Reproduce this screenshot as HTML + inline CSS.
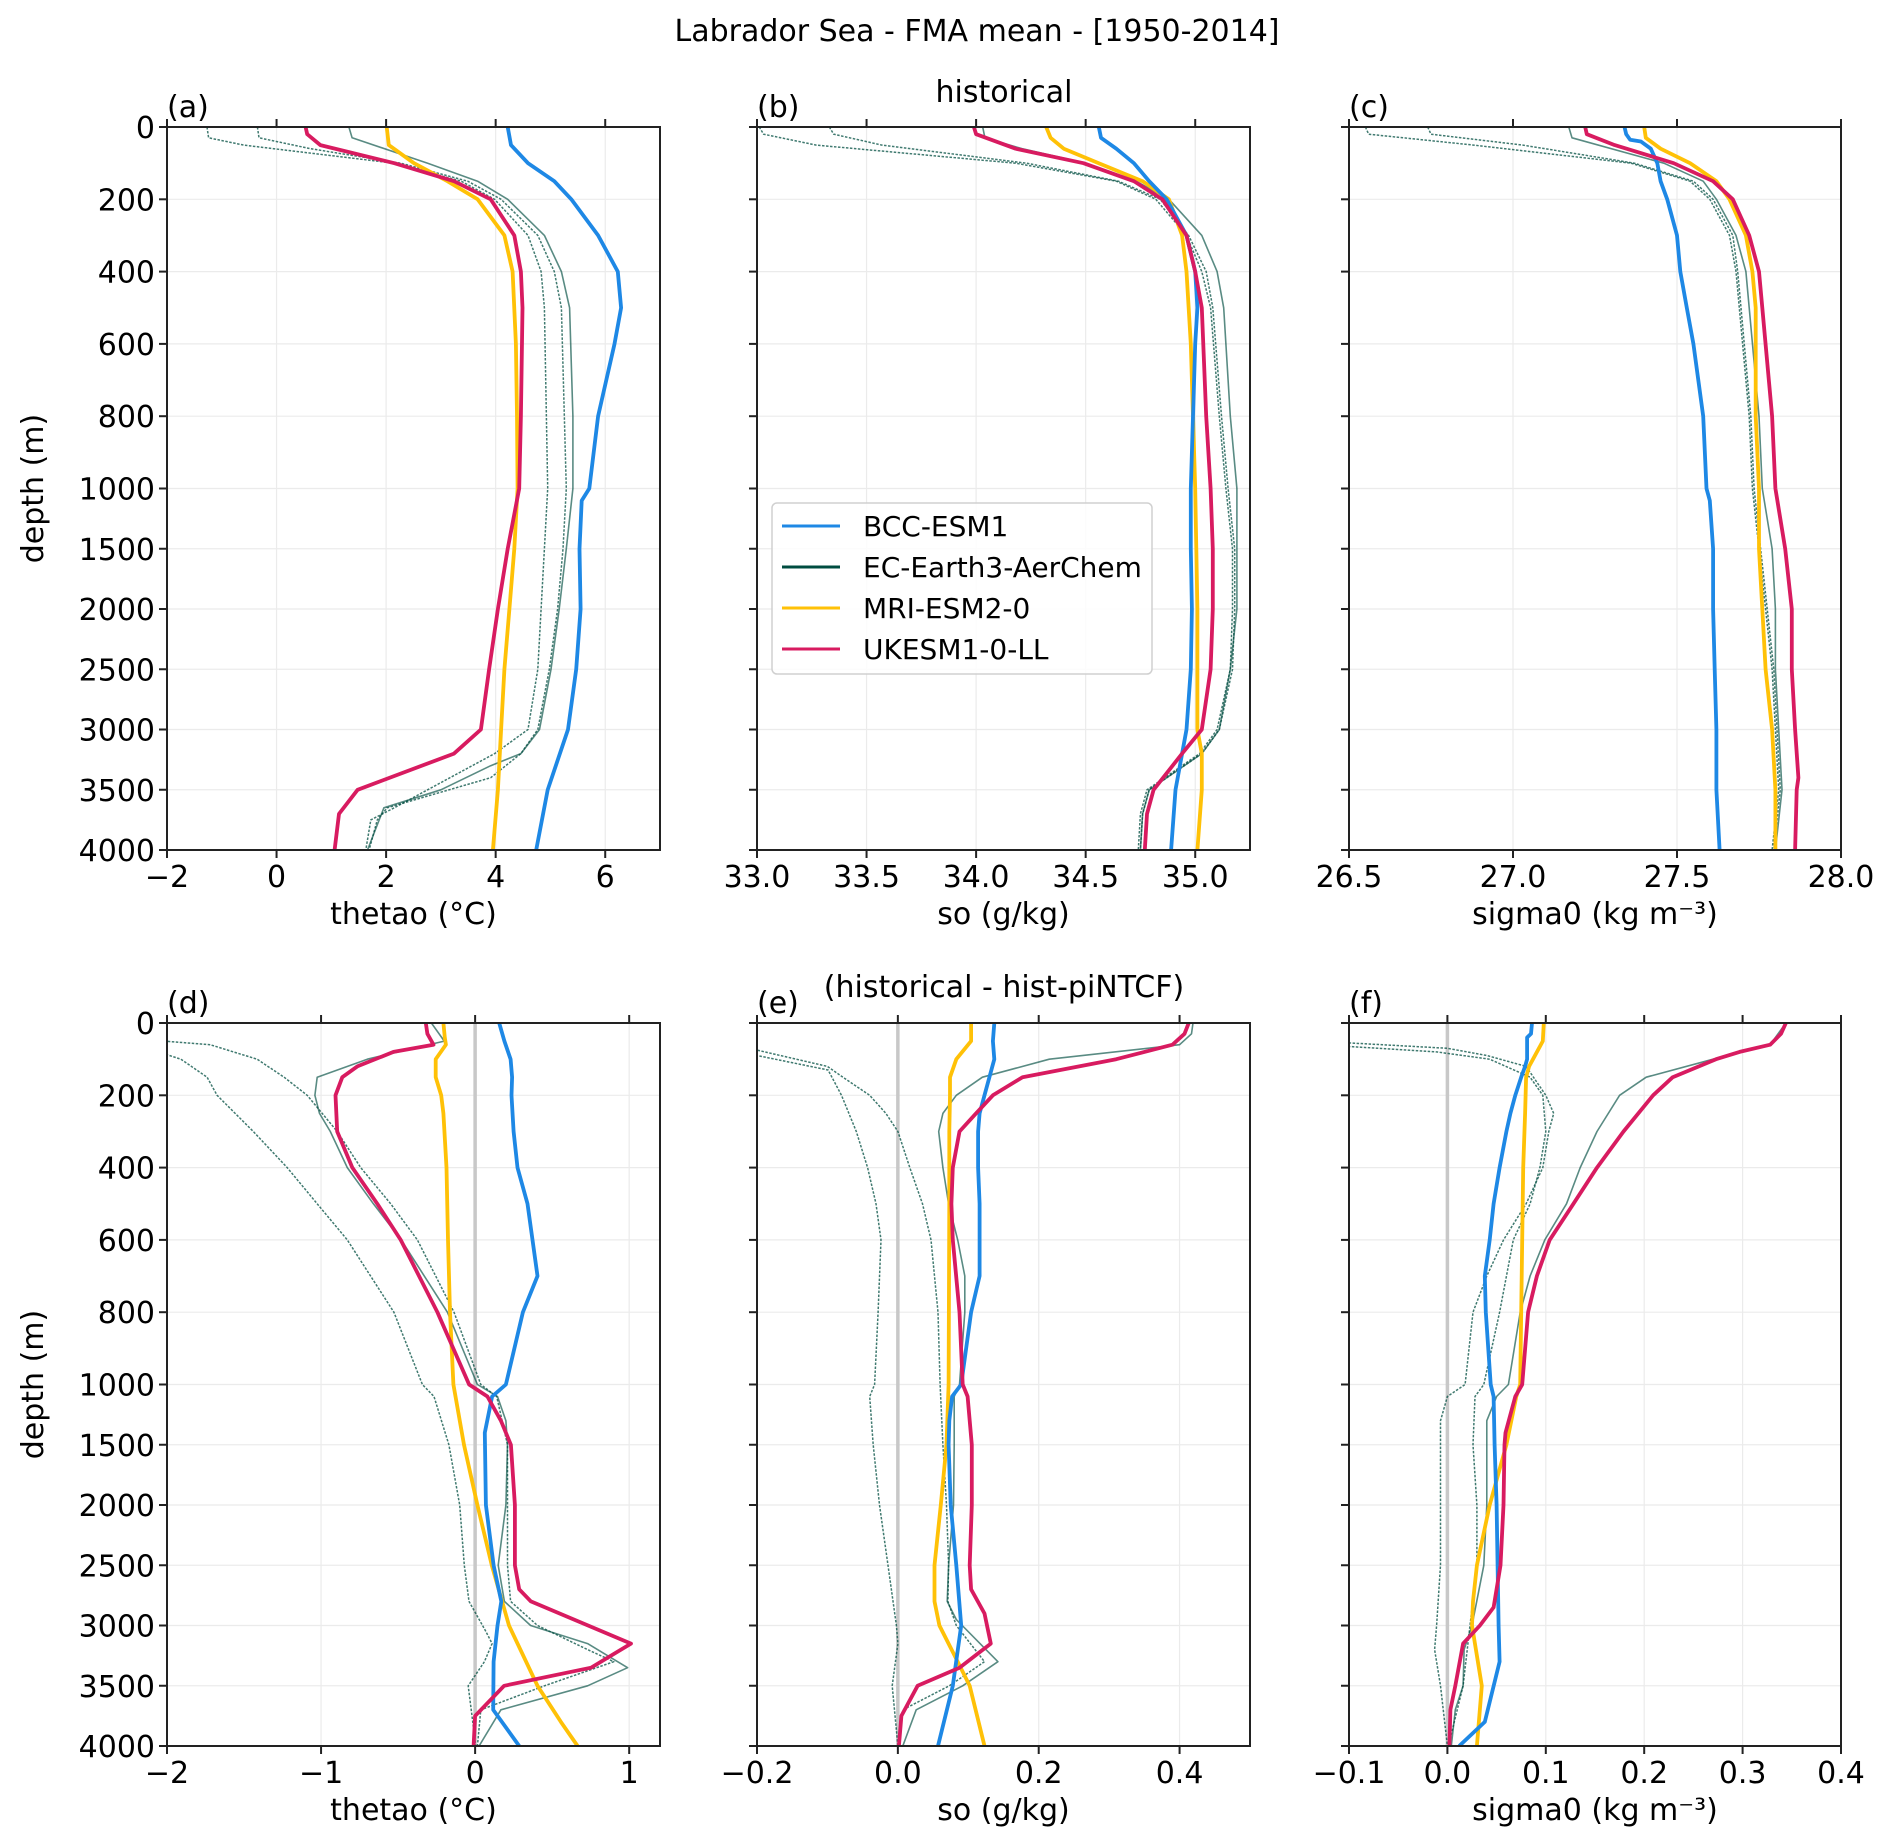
<!DOCTYPE html>
<html>
<head>
<meta charset="utf-8">
<style>
  html,body{margin:0;padding:0;background:#fff;}
  svg{display:block;font-family:"DejaVu Sans","Liberation Sans",sans-serif;}
</style>
</head>
<body>
<svg id="fig" width="1892" height="1846" viewBox="0 0 1892 1846" xmlns="http://www.w3.org/2000/svg">
  <rect x="0" y="0" width="1892" height="1846" fill="#ffffff"/>
  <text x="977" y="41" font-size="30" text-anchor="middle" fill="#000">Labrador Sea - FMA mean - [1950-2014]</text>
  <text x="1004" y="102" font-size="30" text-anchor="middle" fill="#000">historical</text>
  <text x="1004" y="997" font-size="30" text-anchor="middle" fill="#000">(historical - hist-piNTCF)</text>
</svg>
<script>
// ---------- Panel (a) thetao historical ----------
const a_bcc_d=[0,50,100,150,200,300,400,500,600,800,1000,1100,1500,2000,2500,3000,3500,4000];
const a_bcc_v=[4.22,4.28,4.59,5.07,5.38,5.87,6.23,6.29,6.17,5.87,5.71,5.57,5.53,5.55,5.47,5.32,4.95,4.74];
const a_mri_d=[0,50,100,150,200,300,400,600,800,1000,1500,2000,2500,3000,3500,4000];
const a_mri_v=[2.01,2.05,2.51,3.12,3.67,4.16,4.31,4.37,4.39,4.40,4.34,4.25,4.16,4.10,4.04,3.95];
const a_uk_d=[0,20,50,100,150,200,300,400,500,800,1000,1500,2000,2500,3000,3200,3500,3700,4000];
const a_uk_v=[0.53,0.56,0.80,2.15,3.24,3.91,4.34,4.46,4.49,4.46,4.43,4.22,4.04,3.88,3.73,3.24,1.48,1.14,1.06];
const a_ec_d=[0,30,100,150,200,300,400,500,800,1000,1500,2000,2500,3000,3200,3300,3500,3650,4000];
const a_ec_v=[1.32,1.38,2.76,3.67,4.22,4.89,5.2,5.35,5.41,5.41,5.29,5.16,5.01,4.8,4.46,3.91,3.0,1.96,1.66];
const a_ecd1_d=[0,30,50,100,150,200,300,400,500,1000,1500,2000,2500,3000,3200,3650,3750,4000];
const a_ecd1_v=[-1.27,-1.24,-0.6,2.15,3.37,3.98,4.59,4.83,4.89,4.95,4.89,4.83,4.77,4.59,3.98,2.15,1.72,1.63];
const a_ecd2_d=[0,30,60,100,150,200,300,400,500,1000,1500,2000,2500,3000,3200,3400,3650,3750,4000];
const a_ecd2_v=[-0.35,-0.32,0.62,2.27,3.49,4.1,4.77,5.07,5.2,5.29,5.23,5.13,4.98,4.77,4.46,3.91,2.02,1.84,1.69];
const a_ticks=[-2,0,2,4,6];
const a_tick_labels=["\u22122","0","2","4","6"];

// ---------- Panel (b) so historical ----------
const b_bcc_d=[0,30,60,100,150,200,300,400,500,600,800,1000,1500,2000,2500,3000,3200,3500,4000];
const b_bcc_v=[34.56,34.57,34.64,34.72,34.79,34.87,34.96,35.00,35.01,35.00,34.99,34.98,34.98,34.985,34.98,34.96,34.94,34.91,34.89];
const b_mri_d=[0,30,60,100,150,200,300,400,600,800,1000,1500,2000,2500,3000,3200,3500,4000];
const b_mri_v=[34.32,34.34,34.40,34.56,34.76,34.88,34.94,34.96,34.98,34.99,35.00,35.005,35.01,35.01,35.01,35.03,35.03,35.01];
const b_uk_d=[0,20,60,100,150,200,300,400,500,800,1000,1500,2000,2500,3000,3200,3500,3700,4000];
const b_uk_v=[33.99,34.00,34.18,34.49,34.72,34.85,34.96,35.00,35.03,35.05,35.07,35.08,35.08,35.07,35.03,34.94,34.81,34.78,34.77];
const b_ec_d=[0,30,60,100,150,200,300,400,500,800,1000,1500,2000,2500,3000,3200,3500,3700,4000];
const b_ec_v=[34.03,34.04,34.21,34.50,34.73,34.88,35.03,35.10,35.13,35.16,35.19,35.19,35.19,35.16,35.11,35.03,34.79,34.76,34.75];
const b_ecd1_d=[0,20,50,100,150,200,300,400,500,800,1000,1500,2000,2500,3000,3200,3500,3700,4000];
const b_ecd1_v=[33.01,33.03,33.27,34.18,34.64,34.82,34.96,35.03,35.07,35.11,35.14,35.17,35.17,35.16,35.10,35.02,34.78,34.75,34.74];
const b_ecd2_d=[0,20,50,100,150,200,300,400,500,800,1000,1500,2000,2500,3000,3200,3500,3700,4000];
const b_ecd2_v=[33.33,33.35,33.57,34.23,34.65,34.84,34.97,35.05,35.08,35.12,35.15,35.18,35.18,35.17,35.11,35.03,34.79,34.76,34.75];
const b_ticks=[33.0,33.5,34.0,34.5,35.0];
const b_tick_labels=["33.0","33.5","34.0","34.5","35.0"];

// ---------- Panel (c) sigma0 historical ----------
const c_bcc_d=[0,20,35,40,60,100,150,200,300,400,500,600,800,1000,1100,1500,2000,2500,3000,3500,4000];
const c_bcc_v=[27.34,27.345,27.357,27.39,27.42,27.44,27.45,27.47,27.50,27.51,27.53,27.55,27.58,27.59,27.60,27.61,27.61,27.615,27.62,27.62,27.63];
const c_mri_d=[0,30,60,100,150,200,300,400,500,800,1000,1500,2000,2500,3000,3500,4000];
const c_mri_v=[27.40,27.405,27.45,27.54,27.62,27.66,27.71,27.73,27.74,27.74,27.75,27.75,27.76,27.77,27.79,27.80,27.80];
const c_uk_d=[0,20,50,100,150,200,300,400,500,800,1000,1500,2000,2500,3000,3400,3500,4000];
const c_uk_v=[27.22,27.225,27.31,27.49,27.61,27.67,27.72,27.75,27.76,27.79,27.80,27.83,27.85,27.85,27.86,27.87,27.865,27.86];
const c_ec_d=[0,30,100,150,200,300,400,500,800,1000,1500,2000,2500,3000,3500,4000];
const c_ec_v=[27.17,27.18,27.46,27.58,27.62,27.68,27.71,27.72,27.75,27.76,27.79,27.80,27.80,27.81,27.82,27.80];
const c_ecd1_d=[0,20,50,100,150,200,300,400,500,800,1000,1500,2000,2500,3000,3500,4000];
const c_ecd1_v=[26.55,26.56,26.88,27.36,27.54,27.60,27.66,27.68,27.69,27.72,27.73,27.75,27.77,27.79,27.80,27.81,27.79];
const c_ecd2_d=[0,20,50,100,150,200,300,400,500,800,1000,1500,2000,2500,3000,3500,4000];
const c_ecd2_v=[26.74,26.75,27.03,27.37,27.55,27.61,27.67,27.685,27.695,27.725,27.735,27.755,27.775,27.795,27.805,27.815,27.795];
const c_ticks=[26.5,27.0,27.5,28.0];
const c_tick_labels=["26.5","27.0","27.5","28.0"];

// ---------- Panel (d) thetao difference ----------
const d_bcc_d=[0,50,100,150,200,300,400,500,700,800,1000,1100,1400,2000,2500,2800,3000,3300,3700,4000];
const d_bcc_v=[0.156,0.19,0.23,0.24,0.236,0.25,0.275,0.34,0.405,0.31,0.2,0.11,0.063,0.07,0.12,0.17,0.145,0.12,0.117,0.286];
const d_mri_d=[0,40,60,100,150,200,250,400,600,800,1000,1500,2000,2500,3000,3500,3800,4000];
const d_mri_v=[-0.206,-0.197,-0.19,-0.256,-0.256,-0.22,-0.206,-0.186,-0.176,-0.163,-0.141,-0.072,0.015,0.108,0.22,0.405,0.557,0.665];
const d_uk_d=[0,30,60,80,120,150,200,300,400,500,600,800,1000,1100,1300,1500,2000,2500,2700,2800,3150,3350,3500,3750,4000];
const d_uk_v=[-0.32,-0.31,-0.27,-0.53,-0.765,-0.862,-0.906,-0.895,-0.797,-0.635,-0.483,-0.245,-0.039,0.08,0.167,0.232,0.258,0.258,0.286,0.362,1.012,0.752,0.188,0,-0.01];
const d_ec_d=[0,50,100,150,200,250,300,400,500,600,800,1000,1100,1300,1500,2000,2500,2800,3000,3150,3350,3500,3700,4000];
const d_ec_v=[-0.284,-0.2,-0.70,-1.025,-1.04,-1.01,-0.94,-0.83,-0.66,-0.48,-0.18,0.015,0.145,0.2,0.21,0.2,0.15,0.19,0.36,0.73,0.99,0.73,0.167,0.026];
const d_ecd1_d=[0,85,100,150,200,300,400,500,600,800,1000,1100,1500,2000,2500,2800,3050,3150,3300,3500,3750,4000];
const d_ecd1_v=[-3,-2.02,-1.91,-1.74,-1.675,-1.44,-1.22,-1.025,-0.83,-0.527,-0.342,-0.267,-0.17,-0.10,-0.07,-0.04,0.07,0.11,0.06,-0.045,-0.02,0.004];
const d_ecd2_d=[0,50,60,100,150,200,300,400,500,600,800,1000,1100,1500,2000,2500,2800,3000,3200,3300,3500,3700,4000];
const d_ecd2_v=[-3,-2.02,-1.72,-1.415,-1.24,-1.09,-0.895,-0.743,-0.548,-0.375,-0.137,0.037,0.14,0.21,0.21,0.21,0.23,0.405,0.73,0.9,0.45,0.037,0.015];
const d_ticks=[-2,-1,0,1];
const d_tick_labels=["\u22122","\u22121","0","1"];

// ---------- Panel (e) so difference ----------
const e_bcc_d=[0,50,100,150,200,250,300,400,500,700,800,1000,1100,1300,1500,2000,2500,3000,3500,4000];
const e_bcc_v=[0.137,0.135,0.137,0.13,0.123,0.116,0.114,0.114,0.116,0.116,0.104,0.09,0.077,0.073,0.072,0.075,0.083,0.09,0.078,0.057];
const e_mri_d=[0,50,100,150,200,300,500,1000,1500,2000,2500,2800,3000,3300,3500,4000];
const e_mri_v=[0.104,0.104,0.083,0.074,0.074,0.073,0.073,0.072,0.069,0.061,0.052,0.052,0.059,0.085,0.102,0.123];
const e_uk_d=[0,30,60,100,150,200,250,300,400,500,600,800,1000,1100,1500,2000,2500,2700,2900,3150,3350,3500,3750,4000];
const e_uk_v=[0.413,0.407,0.39,0.31,0.177,0.135,0.111,0.0875,0.078,0.076,0.078,0.0875,0.092,0.099,0.105,0.105,0.102,0.104,0.123,0.132,0.0875,0.028,0.005,0.0015];
const e_ec_d=[0,30,60,100,150,200,250,300,400,500,600,700,800,1000,1100,1500,2000,2500,2800,2950,3300,3500,3700,4000];
const e_ec_v=[0.419,0.417,0.40,0.215,0.12,0.083,0.064,0.058,0.064,0.072,0.085,0.095,0.095,0.0875,0.08,0.08,0.079,0.072,0.07,0.083,0.142,0.092,0.026,0.007];
const e_ecd1_d=[0,90,130,200,300,400,500,600,800,1000,1100,1500,2000,2500,3000,3150,3500,4000];
const e_ecd1_v=[-0.3,-0.2,-0.099,-0.08,-0.059,-0.043,-0.031,-0.024,-0.028,-0.033,-0.04,-0.035,-0.026,-0.014,-0.002,0,-0.008,0];
const e_ecd2_d=[0,75,120,150,200,250,300,400,500,600,800,1000,1500,2000,2500,2800,3000,3300,3500,3700,4000];
const e_ecd2_v=[-0.3,-0.2,-0.1,-0.078,-0.04,-0.017,0,0.017,0.035,0.047,0.057,0.06,0.064,0.069,0.072,0.071,0.083,0.123,0.073,0.007,0.002];
const e_ticks=[-0.2,0.0,0.2,0.4];
const e_tick_labels=["\u22120.2","0.0","0.2","0.4"];

// ---------- Panel (f) sigma0 difference ----------
const f_bcc_d=[0,30,40,100,120,150,200,250,300,400,500,600,700,800,1000,1100,1500,2000,2500,3000,3300,3800,4000];
const f_bcc_v=[0.086,0.085,0.081,0.081,0.079,0.075,0.069,0.064,0.06,0.053,0.047,0.043,0.038,0.039,0.044,0.047,0.048,0.05,0.051,0.052,0.053,0.038,0.012];
const f_mri_d=[0,50,100,120,150,250,400,800,1000,1100,1500,2000,2500,2800,3000,3500,4000];
const f_mri_v=[0.098,0.097,0.087,0.083,0.08,0.079,0.077,0.075,0.074,0.07,0.06,0.043,0.03,0.026,0.025,0.035,0.03];
const f_uk_d=[0,30,60,80,100,150,200,300,400,500,600,700,800,1000,1100,1400,1500,2000,2500,2850,3000,3150,3500,3700,4000];
const f_uk_v=[0.344,0.339,0.328,0.297,0.273,0.229,0.209,0.179,0.152,0.128,0.104,0.091,0.082,0.076,0.069,0.059,0.058,0.057,0.054,0.047,0.033,0.016,0.008,0.003,0.002];
const f_ec_d=[0,60,100,150,200,300,400,500,600,700,800,1000,1100,1300,1500,2000,2500,3000,3200,3500,3700,4000];
const f_ec_v=[0.344,0.328,0.27,0.202,0.175,0.152,0.135,0.121,0.099,0.084,0.074,0.062,0.05,0.04,0.04,0.04,0.037,0.025,0.017,0.016,0.008,0.004];
const f_ecd1_d=[0,55,70,90,120,200,250,300,400,500,600,700,800,1000,1100,1300,2000,2500,3000,3200,3500,4000];
const f_ecd1_v=[-0.2,-0.1,0,0.04,0.08,0.1,0.108,0.103,0.097,0.08,0.057,0.04,0.026,0.018,0,-0.007,-0.007,-0.007,-0.011,-0.013,-0.007,0];
const f_ecd2_d=[0,65,80,100,150,200,300,400,500,600,800,1000,1100,1500,2000,2500,3000,3500,4000];
const f_ecd2_v=[-0.2,-0.1,-0.011,0.043,0.084,0.097,0.1,0.094,0.084,0.067,0.053,0.037,0.028,0.026,0.03,0.03,0.023,0.016,0.001];
const f_ticks=[-0.1,0.0,0.1,0.2,0.3,0.4];
const f_tick_labels=["\u22120.1","0.0","0.1","0.2","0.3","0.4"];

const depth_ticks=[0,200,400,600,800,1000,1500,2000,2500,3000,3500,4000];
const depth_tick_labels=["0","200","400","600","800","1000","1500","2000","2500","3000","3500","4000"];
const legend_labels=["BCC-ESM1","EC-Earth3-AerChem","MRI-ESM2-0","UKESM1-0-LL"];

const COL={bcc:"#1E88E5",ec:"#004D40",mri:"#FFC107",uk:"#D81B60"};
const NS="http://www.w3.org/2000/svg";
const svg=document.getElementById("fig");
const FS=30;
function mk(tag,attrs,parent){const e=document.createElementNS(NS,tag);for(const k in attrs)e.setAttribute(k,attrs[k]);(parent||svg).appendChild(e);return e;}

function panel(cfg){
  const {id,x0,x1,y0,y1,xmin,xmax,ticks,labels,xlabel,ylab,zero,series,letter}=cfg;
  const sx=v=>x0+(v-xmin)/(xmax-xmin)*(x1-x0);
  const H=y1-y0;
  const sy=d=>d<=1000? y0+d/1000*H/2 : y0+H/2+(d-1000)/3000*H/2;
  const g=mk("g",{});
  
  
  const cp=mk("clipPath",{id:"clip-"+id},g);
  mk("rect",{x:x0,y:y0,width:x1-x0,height:y1-y0},cp);
  ticks.forEach(t=>{const gl=mk("line",{x1:sx(t),x2:sx(t),y1:y0,y2:y1,stroke:"#ebebeb","stroke-width":1.2},g);
    
    });
  depth_ticks.forEach(t=>{const gl=mk("line",{x1:x0,x2:x1,y1:sy(t),y2:sy(t),stroke:"#ebebeb","stroke-width":1.2},g);
    
    });
  if(zero){const zl=mk("line",{x1:sx(0),x2:sx(0),y1:y0,y2:y1,stroke:"#c8c8c8","stroke-width":3.5},g);
    
    }
  const lg=mk("g",{"clip-path":"url(#clip-"+id+")"},g);
  series.forEach(s=>{
    const pts=s.d.map((d,i)=>sx(s.v[i]).toFixed(1)+","+sy(d).toFixed(1)).join(" ");
    const p=mk("polyline",{points:pts,fill:"none",stroke:s.c,"stroke-width":s.w,"stroke-linejoin":"round","stroke-opacity":s.o||1},lg);
    if(s.dash)p.setAttribute("stroke-dasharray",s.dash);
    
    
  });
  const fr=mk("rect",{x:x0,y:y0,width:x1-x0,height:y1-y0,fill:"none",stroke:"#222","stroke-width":2},g);
  
  
  ticks.forEach((t,i)=>{
    mk("line",{x1:sx(t),x2:sx(t),y1:y1,y2:y1+8,stroke:"#222","stroke-width":2},g);
    const tl=mk("text",{x:sx(t),y:y1+37,"font-size":FS,"text-anchor":"middle",fill:"#000"},g);
    tl.textContent=labels[i];
    
    
    mk("line",{x1:sx(t),x2:sx(t),y1:y0,y2:y0-8,stroke:"#222","stroke-width":2},g);
  });
  depth_ticks.forEach((t,i)=>{
    mk("line",{x1:x0,x2:x0-8,y1:sy(t),y2:sy(t),stroke:"#222","stroke-width":2},g);
    if(ylab){
      const tl=mk("text",{x:x0-12,y:sy(t)+11,"font-size":FS,"text-anchor":"end",fill:"#000"},g);
      tl.textContent=depth_tick_labels[i];
      
      
    }
  });
  const xl=mk("text",{x:(x0+x1)/2,y:y1+74,"font-size":FS,"text-anchor":"middle",fill:"#000"},g);
  xl.textContent=xlabel;
  
  
  if(ylab){
    const cy=(y0+y1)/2;
    const yl=mk("text",{x:43,y:cy,"font-size":FS,"text-anchor":"middle",fill:"#000",transform:"rotate(-90 43 "+cy+")"},g);
    yl.textContent="depth (m)";
    
    
  }
  const pl=mk("text",{x:x0,y:y0-10,"font-size":FS,fill:"#000"},g);
  pl.textContent=letter;
  
  
}

const ALL={a_bcc_d,a_bcc_v,a_mri_d,a_mri_v,a_uk_d,a_uk_v,a_ec_d,a_ec_v,a_ecd1_d,a_ecd1_v,a_ecd2_d,a_ecd2_v,
b_bcc_d,b_bcc_v,b_mri_d,b_mri_v,b_uk_d,b_uk_v,b_ec_d,b_ec_v,b_ecd1_d,b_ecd1_v,b_ecd2_d,b_ecd2_v,
c_bcc_d,c_bcc_v,c_mri_d,c_mri_v,c_uk_d,c_uk_v,c_ec_d,c_ec_v,c_ecd1_d,c_ecd1_v,c_ecd2_d,c_ecd2_v,
d_bcc_d,d_bcc_v,d_mri_d,d_mri_v,d_uk_d,d_uk_v,d_ec_d,d_ec_v,d_ecd1_d,d_ecd1_v,d_ecd2_d,d_ecd2_v,
e_bcc_d,e_bcc_v,e_mri_d,e_mri_v,e_uk_d,e_uk_v,e_ec_d,e_ec_v,e_ecd1_d,e_ecd1_v,e_ecd2_d,e_ecd2_v,
f_bcc_d,f_bcc_v,f_mri_d,f_mri_v,f_uk_d,f_uk_v,f_ec_d,f_ec_v,f_ecd1_d,f_ecd1_v,f_ecd2_d,f_ecd2_v};

function ser(p){
  const D=ALL;
  return [
    {name:"ec-member-dotted-1",d:D[p+"_ecd1_d"],v:D[p+"_ecd1_v"],c:COL.ec,w:1.5,o:0.75,dash:"2.5,1.5"},
    {name:"ec-member-dotted-2",d:D[p+"_ecd2_d"],v:D[p+"_ecd2_v"],c:COL.ec,w:1.5,o:0.75,dash:"2.5,1.5"},
    {name:"ec-earth3-aerchem-line",d:D[p+"_ec_d"],v:D[p+"_ec_v"],c:COL.ec,w:1.6,o:0.65},
    {name:"mri-esm2-0-line",d:D[p+"_mri_d"],v:D[p+"_mri_v"],c:COL.mri,w:3.8},
    {name:"bcc-esm1-line",d:D[p+"_bcc_d"],v:D[p+"_bcc_v"],c:COL.bcc,w:3.8},
    {name:"ukesm1-0-ll-line",d:D[p+"_uk_d"],v:D[p+"_uk_v"],c:COL.uk,w:3.8}
  ];
}

const TY0=127,TY1=850,BY0=1023,BY1=1746;
const XA=[167,660],XB=[757,1250],XC=[1349,1841];
panel({id:"a",x0:XA[0],x1:XA[1],y0:TY0,y1:TY1,xmin:-2,xmax:7,ticks:a_ticks,labels:a_tick_labels,xlabel:"thetao (°C)",ylab:true,zero:false,series:ser("a"),letter:"(a)"});
panel({id:"b",x0:XB[0],x1:XB[1],y0:TY0,y1:TY1,xmin:33,xmax:35.25,ticks:b_ticks,labels:b_tick_labels,xlabel:"so (g/kg)",ylab:false,zero:false,series:ser("b"),letter:"(b)"});
panel({id:"c",x0:XC[0],x1:XC[1],y0:TY0,y1:TY1,xmin:26.5,xmax:28,ticks:c_ticks,labels:c_tick_labels,xlabel:"sigma0 (kg m\u207B\u00B3)",ylab:false,zero:false,series:ser("c"),letter:"(c)"});
panel({id:"d",x0:XA[0],x1:XA[1],y0:BY0,y1:BY1,xmin:-2,xmax:1.2,ticks:d_ticks,labels:d_tick_labels,xlabel:"thetao (°C)",ylab:true,zero:true,series:ser("d"),letter:"(d)"});
panel({id:"e",x0:XB[0],x1:XB[1],y0:BY0,y1:BY1,xmin:-0.2,xmax:0.5,ticks:e_ticks,labels:e_tick_labels,xlabel:"so (g/kg)",ylab:false,zero:true,series:ser("e"),letter:"(e)"});
panel({id:"f",x0:XC[0],x1:XC[1],y0:BY0,y1:BY1,xmin:-0.1,xmax:0.4,ticks:f_ticks,labels:f_tick_labels,xlabel:"sigma0 (kg m\u207B\u00B3)",ylab:false,zero:true,series:ser("f"),letter:"(f)"});

const lgd=mk("g",{});


mk("rect",{x:772,y:503,width:380,height:171,rx:5,fill:"#ffffff","fill-opacity":0.85,stroke:"#d0d0d0","stroke-width":1.5},lgd);
const legCols=[COL.bcc,COL.ec,COL.mri,COL.uk];
legend_labels.forEach((lab,i)=>{
  const y=526+i*41;
  const ln=mk("line",{x1:782,x2:840,y1:y,y2:y,stroke:legCols[i],"stroke-width":3},lgd);
  
  
  const t=mk("text",{x:863,y:y+10,"font-size":28,fill:"#000"},lgd);
  t.textContent=lab;
  
  
});
</script>
</body>
</html>
